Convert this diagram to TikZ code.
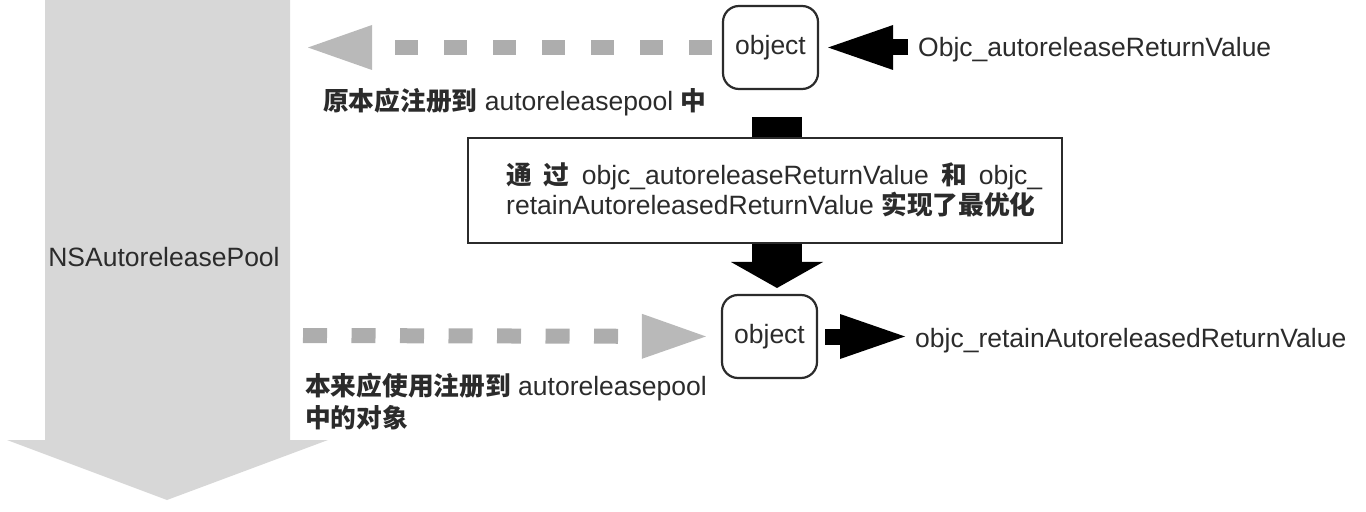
\documentclass[tikz,border=0pt]{standalone}
\usepackage{fontspec}
\setmainfont{Liberation Sans}
\newfontfamily\cjkfont[Scale=0.97]{Noto Sans CJK SC}
\newcommand\zh[1]{{\cjkfont\bfseries #1}}
\usetikzlibrary{arrows.meta}
\definecolor{pool}{HTML}{D7D7D7}
\definecolor{dashg}{HTML}{ADADAD}
\definecolor{headg}{HTML}{B9B9B9}
\definecolor{ink}{HTML}{2B2B2B}
\begin{document}
\begin{tikzpicture}[x=1bp,y=-1bp,
  font=\fontsize{26.5bp}{31bp}\selectfont, text=ink,
  objbox/.style={draw=ink, line width=2.2bp, rounded corners=16bp, minimum width=95bp,
    minimum height=83bp, inner sep=0pt, fill=white},
  lbl/.style={inner sep=0pt, anchor=base west},
  greyflow/.style={dashg, line width=15bp,
    -{Triangle[length=64bp,width=45bp,color=headg,line width=0pt]}},
  blackflow/.style={black, line width=16bp, -{Triangle[length=65bp,width=45bp,line width=0pt]}},
]
\useasboundingbox (0,0) rectangle (1366,512);
% big pool arrow
\fill[pool] (45,0) -- (290,0) -- (290,440) -- (328,440) -- (167,500) -- (7,440) -- (45,440) -- cycle;
\node[inner sep=0pt, anchor=base] (pool) at (164,267) {NSAutoreleasePool};

% object nodes
\node[objbox] (obj1) at (770.5,47.5) {object};
\node[objbox] (obj2) at (769.5,336.5) {object};

% right labels
\node[lbl] (rv1) at (918,57) {Objc\_autoreleaseReturnValue};
\node[lbl] (rv2) at (915,347) {objc\_retainAutoreleasedReturnValue};

% black side arrows
\draw[blackflow, shorten <=10bp, shorten >=9bp] (rv1.west |- obj1.east) -- (obj1.east);
\draw[blackflow, shorten <=7bp, shorten >=10bp] (obj2.east) -- (rv2.west |- obj2.east);

% grey dashed arrows
\coordinate (g1) at (308,47.5);
\coordinate (g2) at (303,335.5);
\draw[greyflow, dash pattern=on 23bp off 26bp, shorten <=10bp] (obj1.west) -- (g1);
\draw[greyflow, dash pattern=on 24bp off 24.5bp, shorten >=15bp] (g2) -- (obj2.west);

% grey labels
\node[lbl] (l1) at (323,111) {\zh{原本应注册到} autoreleasepool \zh{中}};
\node[lbl] (l2) at (305,395) {\zh{本来应使用注册到} autoreleasepool};
\node[lbl] (l3) at (305,427) {\zh{中的对象}};

% vertical black arrow (behind the box)
\coordinate (vtop) at (777,117);
\coordinate (vtip) at (777,288);
\draw[black, line width=50bp, -{Triangle[length=26bp,width=92bp,line width=0pt]}] (vtop) -- (vtip);

% optimisation box
\node[draw=ink, line width=2.2bp, fill=white, minimum width=594bp, minimum height=105bp,
  inner sep=0pt] (opt) at (765,190.5) {};
\node[lbl] (opt2) at (506,215) {retainAutoreleasedReturnValue \zh{实现了最优化}};
\node[lbl] (opt1) at (506,185) {\makebox[\dimexpr\pgfkeysvalueof{/pgf/inner xsep}*0+536bp\relax][s]{\zh{通} \zh{过} objc\_autoreleaseReturnValue \zh{和} objc\_}};
\end{tikzpicture}
\end{document}
